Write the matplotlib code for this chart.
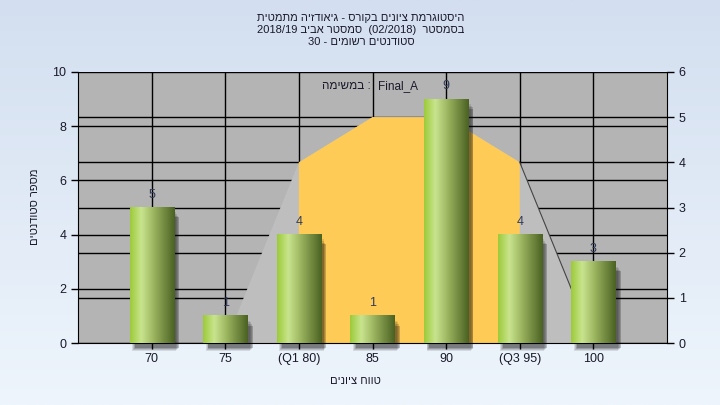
import numpy as np
import matplotlib.pyplot as plt
from matplotlib.patches import Polygon, Rectangle
from matplotlib.colors import LinearSegmentedColormap

plt.rcParams['font.family'] = ['Liberation Sans', 'DejaVu Sans']

# data
grade_labels = ['70', '75', '(Q1 80)', '85', '90', '(Q3 95)', '100']
counts = [5, 1, 4, 1, 9, 4, 3]
curve_idx = [1, 2, 3, 4, 5, 6]          # categories the curve passes through
curve_vals = [0, 4, 5, 5, 4, 0]         # right-axis units
q1_idx, q3_idx = 2, 5

title_lines = ['היסטוגרמת ציונים בקורס - גיאודזיה מתמטית',
               'בסמסטר  (02/2018)  סמסטר אביב 2018/19',
               'סטודנטים רשומים - 30']
task_name = 'Final_A'
task_word = 'במשימה'
x_title = 'טווח ציונים'
y_title = 'מספר סטודנטים'


def rtl(s):
    # crude visual ordering for a right-to-left line
    out = []
    for w in reversed(s.split(' ')):
        if any('\u0590' <= c <= '\u05ff' for c in w):
            out.append(w[::-1])
        else:
            out.append(w)
    return ' '.join(out)


fig = plt.figure(figsize=(7.2, 4.05), dpi=100)

# background gradient
bg = fig.add_axes([0, 0, 1, 1], zorder=-10)
grad = np.linspace(0, 1, 256).reshape(-1, 1)
bg.imshow(grad, aspect='auto', extent=(0, 1, 0, 1),
          cmap=LinearSegmentedColormap.from_list('bg', ['#d3dff0', '#eef5fc']))
bg.axis('off')

rect = [78 / 720, 62 / 405, 589 / 720, 271 / 405]
ax2 = fig.add_axes(rect, zorder=0)
ax = fig.add_axes(rect, zorder=1, sharex=ax2)
ax.patch.set_visible(False)
ax2.set_facecolor('#b4b4b4')

x = np.arange(len(counts))
ax.set_xlim(-1, len(counts))
ax.set_ylim(0, 10)
ax2.set_ylim(0, 6)

# grid
for v in range(0, 11, 2):
    ax.axhline(v, color='black', lw=1, zorder=0.5)
for v in range(1, 6):
    ax2.axhline(v, color='black', lw=1, zorder=0.5)
for xi in x:
    ax.axvline(xi, color='black', lw=1, zorder=0.5)

# normal-ish curve areas (right axis units)
cx = list(curve_idx)
cy = list(curve_vals)
pts = list(zip(cx, cy)) + [(cx[-1], 0), (cx[0], 0)]
ax.add_patch(Polygon(pts, closed=True, facecolor='#bebebe', edgecolor='none',
                     transform=ax2.transData, zorder=1))
inner = [(i, v) for i, v in zip(cx, cy) if q1_idx <= i <= q3_idx]
inner = inner + [(q3_idx, 0), (q1_idx, 0)]
ax.add_patch(Polygon(inner, closed=True, facecolor='#fecb57', edgecolor='none',
                     transform=ax2.transData, zorder=1.1))
ax.plot(cx[-2:], cy[-2:], color='#444444', lw=0.8, transform=ax2.transData, zorder=1.2)

# cylinder bars
w = 0.6
cyl = LinearSegmentedColormap.from_list(
    'cyl', [(0, '#9dcb3a'), (0.25, '#c9e48e'), (0.55, '#98b15c'), (1, '#4a6122')])
hgrad = np.linspace(0, 1, 128).reshape(1, -1)
for xi, c in zip(x, counts):
    for k, a in enumerate([0.1, 0.12, 0.16, 0.22]):
        dx = 0.015 + 0.012 * k
        ax.add_patch(Rectangle((xi - w / 2 + dx + 0.02, -0.3 + 0.04 * k), w, c + 0.12 - 0.1 * k,
                               facecolor='black', alpha=a, edgecolor='none', zorder=2.5,
                               clip_on=False))
    ax.imshow(hgrad, aspect='auto', cmap=cyl, extent=(xi - w / 2, xi + w / 2, 0, c), zorder=3)
    ax.text(xi, c + 0.25, str(c), ha='center', va='bottom', fontsize=9, color='#303a5a', zorder=4)

ax.set_xlim(-1, len(counts))
ax.set_ylim(0, 10)

ax.set_xticks(x)
ax.set_xticklabels(grade_labels, fontsize=9, color='#1a1a2a')
ax.set_yticks(range(0, 11, 2))
ax.tick_params(axis='y', labelsize=9, length=5, width=1, labelcolor='#1a1a2a')
ax.tick_params(axis='x', length=4, width=1)
ax2.yaxis.tick_right()
ax2.set_yticks(range(0, 7))
ax2.tick_params(axis='y', labelsize=9, length=5, width=1, labelcolor='#1a1a2a')
ax2.tick_params(axis='x', labelbottom=False, length=0)
for a in (ax, ax2):
    a.spines['top'].set_visible(False)
ax.spines['right'].set_visible(False)
ax2.spines['left'].set_visible(False)
ax2.spines['bottom'].set_visible(False)

# task caption: hebrew word on the left, colon, then the task name
ax.text(0.4965, 0.948, rtl(task_word) + ' :', transform=ax.transAxes, ha='right', va='center',
        fontsize=8.5, color='#1a1a2a', zorder=5)
ax.text(0.51, 0.948, task_name, transform=ax.transAxes, ha='left', va='center',
        fontsize=8.5, color='#1a1a2a', zorder=5)

for i, line in enumerate(title_lines):
    fig.text(361 / 720, 1 - (18 + 12 * i) / 405, rtl(line), ha='center', va='center',
             fontsize=8, color='#1a1a2a')
fig.text(355 / 720, 1 - 381 / 405, rtl(x_title), ha='center', va='center', fontsize=8,
         color='#1a1a2a')
fig.text(35 / 720, 1 - 207 / 405, rtl(y_title), ha='center', va='center', rotation=90,
         fontsize=8, color='#1a1a2a')

fig.savefig('out.png', dpi=100)
